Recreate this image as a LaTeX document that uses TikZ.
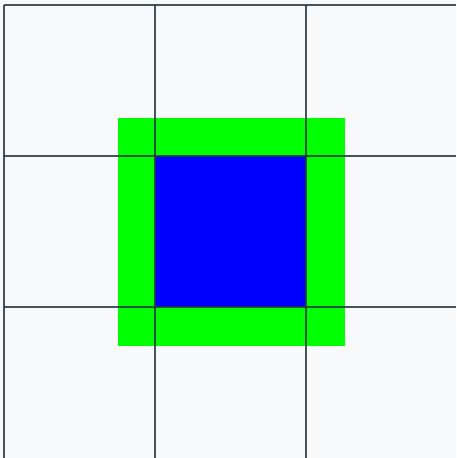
\documentclass[tikz,border=0pt]{standalone}
\usepackage{xcolor}
\usepackage{tikz}
\definecolor{bggray}{RGB}{248,249,250}
\definecolor{gridline}{RGB}{40,55,65}
\definecolor{ringgreen}{RGB}{0,255,0}
\definecolor{coreblue}{RGB}{0,0,255}
\tikzset{
  cellline/.style={gridline,line width=1.1pt,opacity=0.85},
  ring/.style={fill=ringgreen},
  core/.style={fill=coreblue}
}

\begin{document}
\begin{tikzpicture}[x=1pt,y=-1pt]
  \fill[bggray] (0,0) rectangle (456,458);
  \useasboundingbox (0,0) rectangle (456,458);
  % padded region and the cell itself
  \fill[ring] (118,118) rectangle (345,346);
  \fill[core] (155,156) rectangle (306,307);
  % grid
  \foreach \gx in {4,155,306} {
    \draw[cellline] (\gx,5) -- (\gx,458);
  }
  \foreach \gy in {5,156,307} {
    \draw[cellline] (4,\gy) -- (456,\gy);
  }
\end{tikzpicture}
\end{document}
